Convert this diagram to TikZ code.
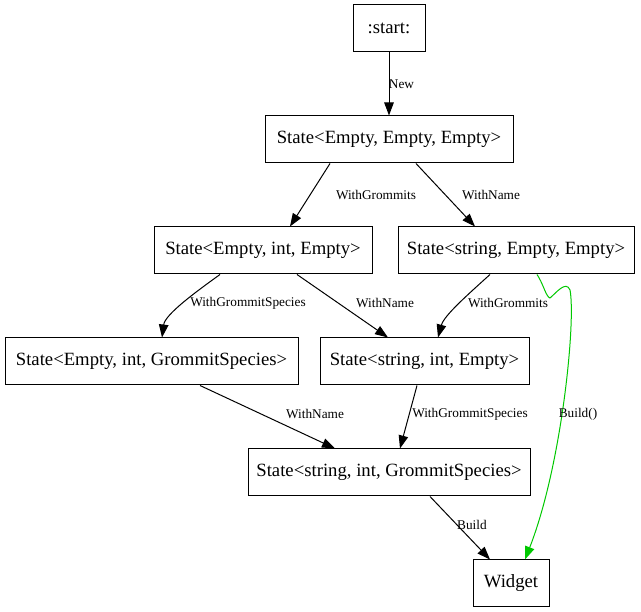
\documentclass[tikz,border=0pt]{standalone}
\usepackage{fontspec}
\setmainfont{Liberation Serif}
\usepackage{xcolor}
\usetikzlibrary{arrows.meta,calc}
\definecolor{buildgreen}{RGB}{0,200,0}

\begin{document}
\begin{tikzpicture}[x=1pt,y=-1pt,
	state/.style={draw,line width=1pt,minimum height=47pt,inner sep=0pt,font=\fontsize{18.7}{21}\selectfont},
	lbl/.style={inner sep=0pt,font=\fontsize{13.3}{15}\selectfont},
	edge/.style={-{Triangle[length=13pt,width=9.5pt]},line width=1pt}]
	\useasboundingbox (0,0) rectangle (641,612);
	
	\node[state,minimum width=72pt] (start) at (389,28.5) {:start:};
	\node[state,minimum width=248pt] (eee) at (389,139.5) {State<Empty, Empty, Empty>};
	\node[state,minimum width=218pt] (eie) at (263,250.5) {State<Empty, int, Empty>};
	\node[state,minimum width=236pt] (see) at (516,250.5) {State<string, Empty, Empty>};
	\node[state,minimum width=293pt] (eig) at (151.5,361.5) {State<Empty, int, GrommitSpecies>};
	\node[state,minimum width=209pt] (sie) at (424.5,361.5) {State<string, int, Empty>};
	\node[state,minimum width=282pt] (sig) at (389,472.5) {State<string, int, GrommitSpecies>};
	\node[state,minimum width=76pt] (widget) at (511,583.5) {Widget};
	
	\draw[edge] (start) -- (eee);
	\draw[edge] ([xshift=-59]eee.south) -- ([xshift=27]eie.north);
	\draw[edge] ([xshift=27]eee.south) -- ([xshift=-41]see.north);
	\draw[edge] ([xshift=-43]eie.south) .. controls ($(eie.south)+(-68,18)$) and ($(eig.north)+(13.5,-23)$) .. ([xshift=10.5]eig.north);
	\draw[edge] ([xshift=34]eie.south) -- ([xshift=-36.5]sie.north);
	\draw[edge] ([xshift=-26]see.south) .. controls ($(see.south)+(-48,20)$) and ($(sie.north)+(19.5,-22)$) .. ([xshift=13.5]sie.north);
	\draw[edge] ([xshift=48.5]eig.south) -- ([xshift=-54]sig.north);
	\draw[edge] ([xshift=-7.5]sie.south) -- ([xshift=11]sig.north);
	\draw[edge] ([xshift=41]sig.south) -- ([xshift=-21]widget.north);
	
	% Build() goes straight from string,Empty,Empty
	\coordinate (dip) at (550,298);
	\coordinate (hump) at (570,290);
	\draw[edge,buildgreen] ([xshift=21]see.south) .. controls (543,283) and (546,297) .. (dip)
		.. controls (556,293) and (566,280) .. (hump)
		.. controls (576,320) and (562,465) .. ([xshift=14]widget.north);
	
	\node[lbl] (lnew) at (401.5,84) {New};
	\node[lbl] (lgrom1) at (376,195) {WithGrommits};
	\node[lbl] (lname1) at (491,195) {WithName};
	\node[lbl] (lspec1) at (248,303) {WithGrommitSpecies};
	\node[lbl] (lname2) at (385,303) {WithName};
	\node[lbl] (lgrom2) at (508,303) {WithGrommits};
	\node[lbl] (lname3) at (315,414) {WithName};
	\node[lbl] (lspec2) at (470,414) {WithGrommitSpecies};
	\node[lbl] (lbuild1) at (578,414) {Build()};
	\node[lbl] (lbuild2) at (472,525) {Build};
\end{tikzpicture}
\end{document}
